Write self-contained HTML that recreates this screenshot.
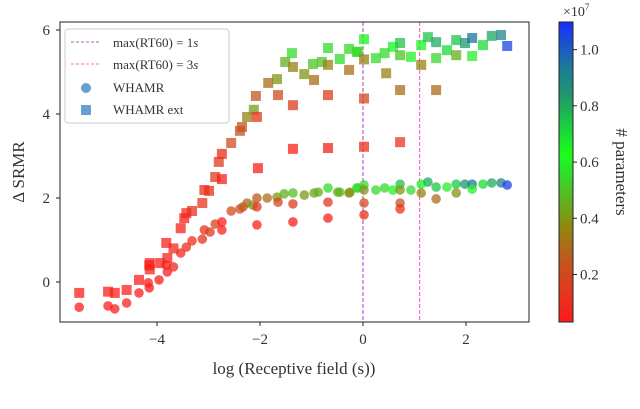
<!DOCTYPE html>
<html><head><meta charset="utf-8">
<style>
body{margin:0;background:#fff;}
svg{display:block;font-family:"Liberation Serif",serif;}
</style></head>
<body>
<svg id="chart" width="640" height="409" viewBox="0 0 640 409">
<defs>
<linearGradient id="cmap" x1="0" y1="1" x2="0" y2="0">
<stop offset="0" stop-color="#ff1a1a"/>
<stop offset="0.2" stop-color="#c55520"/>
<stop offset="0.32" stop-color="#8c8a10"/>
<stop offset="0.5" stop-color="#2ee02e"/>
<stop offset="0.56" stop-color="#1aff1a"/>
<stop offset="0.75" stop-color="#1f9a6a"/>
<stop offset="0.85" stop-color="#1e7a9a"/>
<stop offset="1" stop-color="#1a2cff"/>
</linearGradient>
<clipPath id="pclip"><rect x="60" y="22" width="469" height="300"/></clipPath>
</defs>
<g id="marks" clip-path="url(#pclip)"></g>
<g id="axes"></g>
</svg>
<script>
const sqX=[-5.51,-4.95,-4.82,-4.59,-4.35,-4.14,-4.15,-4.14,-3.94,-3.8,-3.82,-3.68,-3.54,-3.47,-3.43,-3.32,-3.12,-3.08,-2.99,-2.87,-2.74,-2.8,-2.74,-2.56,-2.39,-2.35,-2.25,-2.12,-2.06,-2.08,-2.04,-1.84,-1.67,-1.65,-1.51,-1.38,-1.36,-1.36,-1.36,-1.14,-0.97,-0.95,-0.8,-0.68,-0.68,-0.68,-0.68,-0.45,-0.27,-0.27,-0.12,-0.1,0.02,0.02,0.02,0.02,0.25,0.42,0.58,0.72,0.72,0.45,0.72,0.72,0.93,1.13,1.13,1.26,1.42,1.42,1.42,1.63,1.81,1.81,1.98,2.12,2.12,2.33,2.5,2.68,2.8];
const sqY=[-0.26,-0.23,-0.26,-0.19,0.05,0.45,0.4,0.3,0.45,0.57,0.93,0.8,1.28,1.52,1.64,1.69,1.88,2.19,2.17,2.5,2.45,2.86,3.05,3.31,3.6,3.69,3.93,4.1,3.93,4.43,2.71,4.74,4.83,4.45,5.24,5.45,5.12,4.21,3.17,4.95,5.19,4.81,5.24,5.57,5.17,4.45,3.19,5.31,5.55,5.05,5.48,5.48,5.78,5.3,4.37,3.22,5.33,5.45,5.6,5.69,5.4,4.97,4.57,3.33,5.36,5.64,5.17,5.83,5.71,5.33,4.57,5.52,5.76,5.4,5.69,5.81,5.38,5.64,5.86,5.88,5.62];
const sqP=[0.05,0.05,0.05,0.05,0.05,0.05,0.05,0.05,0.06,0.06,0.06,0.08,0.06,0.06,0.08,0.1,0.12,0.1,0.1,0.15,0.05,0.15,0.1,0.2,0.22,0.25,0.35,0.42,0.12,0.25,0.05,0.3,0.4,0.2,0.45,0.55,0.35,0.15,0.05,0.4,0.5,0.3,0.5,0.55,0.35,0.15,0.06,0.55,0.55,0.3,0.55,0.55,0.65,0.35,0.2,0.1,0.55,0.55,0.65,0.75,0.5,0.35,0.3,0.12,0.6,0.65,0.35,0.75,0.8,0.55,0.3,0.7,0.75,0.45,0.85,0.95,0.6,0.7,0.8,0.9,1.05];
const ciX=[-5.51,-4.95,-4.82,-4.59,-4.35,-4.15,-4.17,-3.96,-3.8,-3.68,-3.82,-3.54,-3.43,-3.32,-3.12,-3.08,-2.97,-2.87,-2.74,-2.74,-2.56,-2.39,-2.33,-2.25,-2.14,-2.06,-2.06,-2.06,-1.86,-1.67,-1.65,-1.53,-1.36,-1.36,-1.36,-1.14,-0.95,-0.87,-0.68,-0.68,-0.68,-0.45,-0.25,-0.12,-0.49,-0.27,-0.1,0.02,0.02,0.02,0.02,0.25,0.42,0.58,0.72,0.72,0.72,0.72,0.93,1.13,1.13,1.26,1.42,1.42,1.63,1.81,1.81,1.98,2.12,2.12,2.33,2.5,2.68,2.8];
const ciY=[-0.6,-0.57,-0.64,-0.5,-0.26,-0.14,-0.02,0.05,0.24,0.36,0.4,0.69,0.83,0.98,1.02,1.24,1.19,1.38,1.43,1.24,1.69,1.74,1.79,1.88,1.83,1.79,1.36,2.0,2.0,2.02,1.9,2.1,2.12,1.86,1.43,2.07,2.12,2.14,2.24,1.9,1.52,2.14,2.14,2.24,2.14,2.12,2.24,2.31,2.19,1.88,1.6,2.19,2.24,2.19,2.33,2.19,1.88,1.74,2.19,2.33,2.12,2.38,2.26,1.98,2.26,2.33,2.12,2.33,2.33,2.21,2.33,2.36,2.36,2.31];
const ciP=[0.05,0.05,0.05,0.05,0.05,0.05,0.05,0.06,0.06,0.08,0.06,0.08,0.1,0.1,0.12,0.12,0.15,0.18,0.05,0.05,0.2,0.22,0.25,0.3,0.42,0.12,0.05,0.25,0.3,0.4,0.2,0.45,0.5,0.15,0.05,0.4,0.45,0.45,0.55,0.15,0.05,0.5,0.5,0.55,0.45,0.35,0.55,0.55,0.4,0.2,0.1,0.55,0.55,0.6,0.75,0.4,0.25,0.1,0.55,0.65,0.35,0.8,0.75,0.3,0.6,0.75,0.4,0.85,0.95,0.6,0.7,0.8,0.9,1.05];
const xTicks=[-4,-2,0,2];
const yTicks=[0,2,4,6];
const cTicks=[0.2,0.4,0.6,0.8,1.0];

const X0=363,XS=51.5,Y0=282,YS=42;
const sx=v=>X0+v*XS, sy=v=>Y0-v*YS;
const C0=322,C1=22,CMIN=0.0308,CMAX=1.0984;
const cy=v=>C0-(v-CMIN)/(CMAX-CMIN)*(C0-C1);
const stops=[[0,[255,26,26]],[0.2,[197,85,32]],[0.32,[140,138,16]],[0.5,[46,224,46]],[0.56,[26,255,26]],[0.75,[31,154,106]],[0.85,[30,122,154]],[1,[26,44,255]]];
function cmap(v){let t=(v-CMIN)/(CMAX-CMIN);t=Math.max(0,Math.min(1,t));
 for(let i=1;i<stops.length;i++){if(t<=stops[i][0]){const a=stops[i-1],b=stops[i];const f=(t-a[0])/(b[0]-a[0]);
 return 'rgb('+a[1].map((c,k)=>Math.round(c+(b[1][k]-c)*f)).join(',')+')';}}return 'rgb(26,44,255)';}
const NS='http://www.w3.org/2000/svg';
function mk(tag,attrs,parent){const e=document.createElementNS(NS,tag);for(const k in attrs)e.setAttribute(k,attrs[k]);parent.appendChild(e);return e;}
const marks=document.getElementById('marks'),axes=document.getElementById('axes');

// reference lines
let l=mk('line',{x1:sx(0),x2:sx(0),y1:22,y2:322,stroke:'#b260c0','stroke-width':1.2,'stroke-dasharray':'4,2'},marks);


l=mk('line',{x1:sx(Math.log(3)),x2:sx(Math.log(3)),y1:22,y2:322,stroke:'#ff66cc','stroke-width':1.2,'stroke-dasharray':'4,2'},marks);



for(let i=0;i<ciX.length;i++){
 const e=mk('circle',{cx:sx(ciX[i]),cy:sy(ciY[i]),r:4.8,fill:cmap(ciP[i]),'fill-opacity':0.75},marks);
 
 
}
for(let i=0;i<sqX.length;i++){
 const e=mk('rect',{x:sx(sqX[i])-5,y:sy(sqY[i])-5,width:10,height:10,fill:cmap(sqP[i]),'fill-opacity':0.75},marks);
 
 
}
// frame
let f=mk('rect',{x:60,y:22,width:469,height:300,fill:'none',stroke:'#222','stroke-width':1},axes);


xTicks.forEach(t=>{
 mk('line',{x1:sx(t),x2:sx(t),y1:322,y2:326,stroke:'#222'},axes);
 const tx=mk('text',{x:sx(t),y:344,'text-anchor':'middle','font-size':15,fill:'#333'},axes);
 tx.textContent=t<0?'\u2212'+(-t):String(t);
 
 
});
yTicks.forEach(t=>{
 mk('line',{x1:56,x2:60,y1:sy(t),y2:sy(t),stroke:'#222'},axes);
 const tx=mk('text',{x:50,y:sy(t)+5,'text-anchor':'end','font-size':15,fill:'#333'},axes);
 tx.textContent=String(t);
 
 
});
// colorbar
let cb=mk('rect',{x:559,y:22,width:14,height:300,fill:'url(#cmap)',stroke:'#222','stroke-width':1},axes);


cTicks.forEach(t=>{
 mk('line',{x1:573,x2:577,y1:cy(t),y2:cy(t),stroke:'#222'},axes);
 const tx=mk('text',{x:580,y:cy(t)+5,'font-size':15,fill:'#333'},axes);
 tx.textContent=t.toFixed(1);
 
 
});
</script>
<script>
(function(){
const svg=document.getElementById('chart');
svg.insertAdjacentHTML('beforeend',`
<text x="563" y="16" font-size="14" fill="#333">×10<tspan dy="-6" font-size="9">7</tspan></text>
<text transform="translate(616,172) rotate(90)" text-anchor="middle" font-size="17" fill="#333"># parameters</text>
<text transform="translate(24,172) rotate(-90)" text-anchor="middle" font-size="17" fill="#333">Δ SRMR</text>
<text x="294" y="374" text-anchor="middle" font-size="17" fill="#333">log (Receptive field (s))</text>
<g>
<rect x="65" y="29" width="164" height="94" rx="3" fill="#fff" fill-opacity="0.85" stroke="#ccc"/>
<line x1="71" y1="42" x2="100" y2="42" stroke="#b260c0" stroke-dasharray="3,2"/>
<text x="113" y="47" font-size="13" fill="#333">max(RT60) = 1<tspan font-style="italic">s</tspan></text>
<line x1="71" y1="64" x2="100" y2="64" stroke="#ff66cc" stroke-dasharray="3,2"/>
<text x="113" y="69" font-size="13" fill="#333">max(RT60) = 3<tspan font-style="italic">s</tspan></text>
<circle cx="86" cy="88" r="5" fill="#4a8fc8" fill-opacity="0.85"/>
<text x="113" y="92" font-size="13" fill="#333">WHAMR</text>
<rect x="81" y="105" width="10" height="10" fill="#4a8fc8" fill-opacity="0.85"/>
<text x="113" y="114" font-size="13" fill="#333">WHAMR ext</text>
</g>`);
})();
</script>
</body></html>
